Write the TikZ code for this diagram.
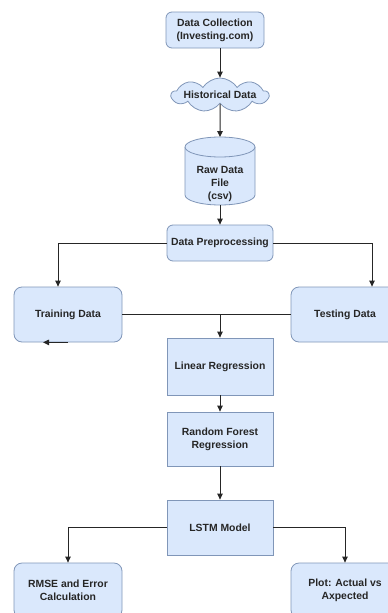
\documentclass[tikz,border=0pt]{standalone}
\usepackage{fontspec}
\setmainfont{Liberation Sans}
\usetikzlibrary{shapes.symbols,arrows.meta}
\definecolor{boxfill}{HTML}{DAE8FC}
\definecolor{boxline}{HTML}{8096B8}
\begin{document}
\begin{tikzpicture}[x=1pt,y=-1pt,
  txt/.style={font=\bfseries\fontsize{10.4}{13}\selectfont, text=black!85, align=center, inner sep=0pt},
  base/.style={txt, draw=boxline, fill=boxfill, line width=0.8pt},
  rbox/.style={base, rectangle, rounded corners=6pt},
  sbox/.style={base, rectangle},
  cyl/.style={draw=boxline, fill=boxfill, line width=0.8pt},
  conn/.style={line width=1pt, draw=black!85},
  arr/.style={conn, -{Triangle[length=6pt,width=5.5pt]}}
]
\useasboundingbox (0,0) rectangle (388,613);
\clip (0,0) rectangle (388,613);

\node[rbox, minimum width=98pt, minimum height=36pt] (dc) at (215,30) {Data Collection\\(Investing.com)};
\node[base, cloud, cloud puffs=9, cloud puff arc=115, aspect=2.9, minimum width=97pt, minimum height=34pt] (hist) at (220,95) {};
\node[txt] (histtxt) at (hist.center) {Historical Data};

\draw[cyl] (185,147) -- (185,195) arc[start angle=180,end angle=0,x radius=35,y radius=10] -- (255,147);
\draw[cyl] (220,147) ellipse[x radius=35,y radius=10];
\coordinate (rawtop) at (220,137);
\coordinate (rawbot) at (220,205);
\node[txt] (raw) at (220,184) {Raw Data\\File\\(csv)};

\node[rbox, minimum width=106pt, minimum height=36pt] (pre) at (220,243) {Data Preprocessing};
\node[rbox, rounded corners=8pt, minimum width=108pt, minimum height=55pt] (train) at (68,314.5) {Training Data};
\node[rbox, rounded corners=8pt, minimum width=108pt, minimum height=55pt] (test) at (345,314.5) {Testing Data};
\node[sbox, minimum width=106pt, minimum height=57pt] (lr) at (220,366.5) {Linear Regression};
\node[sbox, minimum width=106pt, minimum height=54pt] (rf) at (220,439) {Random Forest\\Regression};
\node[sbox, minimum width=106pt, minimum height=55pt] (lstm) at (220,527.5) {LSTM Model};
\node[rbox, rounded corners=8pt, minimum width=108pt, minimum height=55pt] (rmse) at (68,590.5) {RMSE and Error\\Calculation};
\node[rbox, rounded corners=8pt, minimum width=108pt, minimum height=55pt] (plot) at (345,590.5) {Plot: Actual vs\\Axpected};

\draw[arr] (dc.south -| hist.north) -- (hist.north);
\draw[arr] (hist.south) -- (rawtop);
\draw[arr] (rawbot) -- (pre.north);
\draw[arr] (pre.west) -| ([xshift=-10pt]train.north);
\draw[arr] (pre.east) -| ([xshift=27pt]test.north);
\draw[conn] (train.east) -- (test.west);
\draw[arr] (train.east -| lr.north) -- (lr.north);
\draw[arr] (train.south) -- ([xshift=-25pt]train.south);
\draw[arr] (lr.south) -- (rf.north);
\draw[arr] (rf.south) -- (lstm.north);
\draw[arr] (lstm.west) -| (rmse.north);
\draw[arr] (lstm.east) -| (plot.north);
\end{tikzpicture}
\end{document}
